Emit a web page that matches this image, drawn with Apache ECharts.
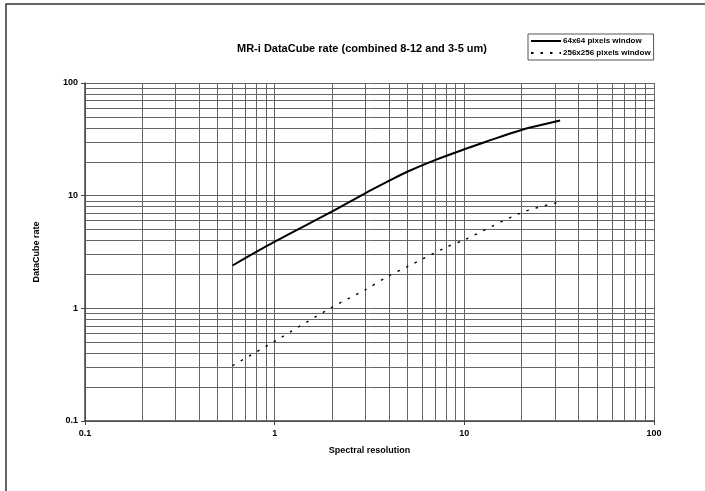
<!DOCTYPE html>
<html>
<head>
<meta charset="utf-8">
<script src="https://cdn.jsdelivr.net/npm/echarts@6/dist/echarts.min.js"></script>
<style>
html,body{margin:0;padding:0;background:#fff;}
#chart{width:705px;height:491px;}
</style>
</head>
<body>
<div id="chart"></div>
<script>
// Data
const seriesNames = ['64x64 pixels window', '256x256 pixels window'];
const xSolid = [0.6, 1, 2, 3, 4, 5, 7, 10, 13, 20, 32];
const ySolid = [2.4, 3.9, 7.2, 10.5, 13.5, 16.3, 20.7, 25.8, 30.1, 38.3, 46.4];
const xDashed = [0.6, 1, 2, 3, 4, 5, 8, 10, 20, 31];
const yDashed = [0.31, 0.51, 1.02, 1.46, 1.94, 2.34, 3.48, 4.05, 7.06, 8.7];
const decades = [0.1, 1, 10];
const minorSteps = [2, 3, 4, 5, 6, 7, 8, 9];
const titleText = 'MR-i DataCube rate (combined 8-12 and 3-5 um)';
const xName = 'Spectral resolution';
const yName = 'DataCube rate';

const pair = (xs, ys) => xs.map((x, i) => [x, ys[i]]);
const minorVals = [];
decades.forEach(d => minorSteps.forEach(m => minorVals.push(+(d * m).toPrecision(3))));

const gridColor = '#666';
const font = 'Liberation Sans, Arial, sans-serif';
const chart = echarts.init(document.getElementById('chart'), null, {renderer: 'canvas'});
chart.setOption({
  backgroundColor: '#fff',
  animation: false,
  title: {
    text: titleText, left: 357, top: 38, textAlign: 'center',
    textStyle: {fontSize: 11, fontWeight: 'bold', color: '#000', fontFamily: font}
  },
  legend: {
    data: seriesNames, orient: 'vertical', left: 528, top: 34,
    itemWidth: 30, itemHeight: 8, itemGap: 4,
    itemStyle: {opacity: 0, borderWidth: 0},
    borderColor: '#555', borderWidth: 1, padding: [3, 3, 3, 2],
    textStyle: {fontSize: 8, fontWeight: 'bold', color: '#000', fontFamily: font, padding: [0, 0, 0, -3]}
  },
  graphic: [{
    type: 'rect', shape: {x: 6, y: 4, width: 900, height: 700},
    style: {fill: 'none', stroke: '#333', lineWidth: 1.5}, silent: true
  }],
  grid: {left: 85, top: 83, right: 51, bottom: 70},
  xAxis: {
    type: 'log', logBase: 10, min: 0.1, max: 100,
    name: xName, nameLocation: 'middle', nameGap: 25,
    nameTextStyle: {fontSize: 9, fontWeight: 'bold', color: '#000', fontFamily: font},
    axisLine: {lineStyle: {color: '#444', width: 1.5}},
    axisTick: {show: true, length: 4, lineStyle: {color: '#444'}},
    axisLabel: {fontSize: 9, fontWeight: 'bold', color: '#000', fontFamily: font, margin: 8},
    splitLine: {show: true, lineStyle: {color: gridColor, width: 1}}
  },
  yAxis: {
    type: 'log', logBase: 10, min: 0.1, max: 100,
    name: yName, nameLocation: 'middle', nameGap: 44, nameRotate: 90,
    nameTextStyle: {fontSize: 9, fontWeight: 'bold', color: '#000', fontFamily: font},
    axisLine: {lineStyle: {color: '#444', width: 1.5}},
    axisTick: {show: true, length: 4, lineStyle: {color: '#444'}},
    axisLabel: {fontSize: 9, fontWeight: 'bold', color: '#000', fontFamily: font, margin: 7},
    splitLine: {show: true, lineStyle: {color: gridColor, width: 1}}
  },
  series: [
    {
      type: 'line', name: 'minor-grid', data: [], silent: true, z: 1,
      markLine: {
        silent: true, symbol: 'none', label: {show: false},
        lineStyle: {color: gridColor, width: 1, type: 'solid'},
        emphasis: {disabled: true},
        data: minorVals.map(v => ({xAxis: v})).concat(minorVals.map(v => ({yAxis: v})))
      }
    },
    {
      type: 'line', name: seriesNames[0], data: pair(xSolid, ySolid),
      showSymbol: false, symbol: 'none', smooth: 0.3, z: 5,
      lineStyle: {color: '#000', width: 2, type: 'solid'}, itemStyle: {color: '#000'}
    },
    {
      type: 'line', name: seriesNames[1], data: pair(xDashed, yDashed),
      showSymbol: false, symbol: 'none', smooth: 0.3, z: 5,
      lineStyle: {color: '#000', width: 1.4, type: [2.5, 7]}, itemStyle: {color: '#000'}
    }
  ]
});
</script>
</body>
</html>
